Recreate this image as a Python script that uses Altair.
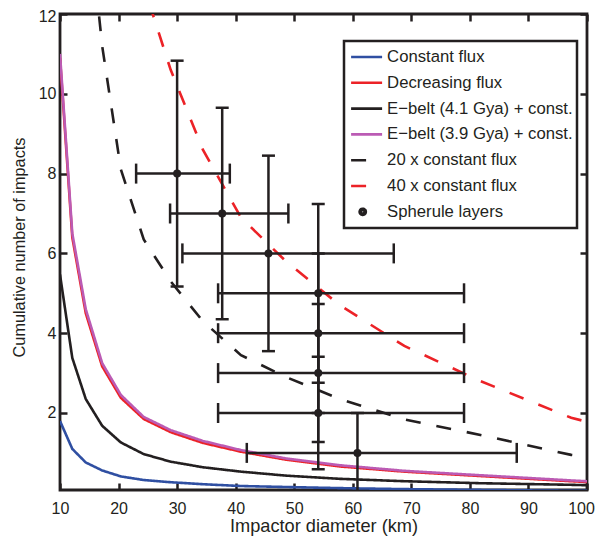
import altair as alt
import pandas as pd

# ---------------- data ----------------
diam = [10, 12.1, 14.4, 17.2, 20.4, 24.3, 28.9, 34.4, 40.9, 48.6, 57.8, 68.8, 81.8, 97.3, 100]
constant_flux = [1.80, 1.10, 0.76, 0.56, 0.41, 0.32, 0.265, 0.215, 0.17, 0.145, 0.117, 0.092, 0.072, 0.050, 0.047]
decreasing_flux = [10.90, 6.40, 4.50, 3.17, 2.38, 1.85, 1.52, 1.25, 1.03, 0.83, 0.66, 0.53, 0.42, 0.29, 0.27]
ebelt_41 = [5.47, 3.38, 2.35, 1.68, 1.26, 0.97, 0.78, 0.64, 0.53, 0.43, 0.35, 0.29, 0.24, 0.20, 0.19]
ebelt_39 = [11.00, 6.50, 4.60, 3.25, 2.45, 1.90, 1.57, 1.30, 1.07, 0.86, 0.69, 0.55, 0.44, 0.31, 0.29]
flux_20x = [36.0, 22.0, 15.2, 11.2, 8.1, 6.35, 5.3, 4.3, 3.45, 2.9, 2.35, 1.84, 1.45, 0.95, 0.90]
flux_40x = [72.0, 44.0, 30.4, 22.4, 16.2, 12.7, 10.6, 8.6, 6.9, 5.8, 4.7, 3.68, 2.8, 1.88, 1.78]

series_names = [
    "Constant flux",
    "Decreasing flux",
    "E\u2212belt (4.1 Gya) + const.",
    "E\u2212belt (3.9 Gya) + const.",
    "20 x constant flux",
    "40 x constant flux",
    "Spherule layers",
]
series_colors = ["#2f4fa2", "#ec2227", "#231f20", "#bb5bb4", "#231f20", "#ec2227", "#231f20"]
series_dash = [[1, 0], [1, 0], [1, 0], [1, 0], [15, 16], [15, 16], [1, 0]]
# legend glyph for the spherule entry: concentric rings that read as a filled dot
DOT = ("M-0.05,0A0.2,0.2,0,1,1,-0.45,0A0.2,0.2,0,1,1,-0.05,0Z"
       "M-0.13,0A0.12,0.12,0,1,1,-0.37,0A0.12,0.12,0,1,1,-0.13,0Z"
       "M-0.21,0A0.04,0.04,0,1,1,-0.29,0A0.04,0.04,0,1,1,-0.21,0Z")
legend_shapes = ["stroke", "stroke", "stroke", "stroke", "stroke", "stroke", DOT]
legend_sizes = [961, 961, 961, 961, 961, 961, 961]
legend_widths = [2.6, 2.6, 2.6, 2.6, 2.6, 2.6, 2.6]

# spherule layers (points with error bars)
sph_d = [30.0, 37.7, 45.6, 54.1, 54.1, 54.1, 54.1, 60.8]
sph_n = [8, 7, 6, 5, 4, 3, 2, 1]
sph_dlo = [23.0, 28.8, 30.9, 37.0, 37.0, 37.0, 37.0, 41.9]
sph_dhi = [39.0, 49.0, 67.0, 79.0, 79.0, 79.0, 79.0, 88.0]
sph_nlo = [5.17, 4.35, 3.55, 2.76, 2.00, 1.27, 0.59, 0.00]
sph_nhi = [10.83, 9.65, 8.45, 7.24, 6.00, 4.73, 3.41, 2.00]

x_ticks = [10, 20, 30, 40, 50, 60, 70, 80, 90, 100]
y_ticks = [2, 4, 6, 8, 10, 12]

# ---------------- tables ----------------
curves = [constant_flux, decreasing_flux, ebelt_41, ebelt_39, flux_20x, flux_40x]
rows = []
for name, vals in zip(series_names[:6], curves):
    for d, v in zip(diam, vals):
        rows.append({"d": d, "v": v, "series": name})
lines_df = pd.DataFrame(rows)

sph_df = pd.DataFrame({
    "d": sph_d, "n": sph_n, "dlo": sph_dlo, "dhi": sph_dhi,
    "nlo": sph_nlo, "nhi": sph_nhi,
})

# one hidden row per legend entry (placed above the y domain, clipped away)
key_df = pd.DataFrame({"series": series_names, "d": [50] * 7, "v": [100] * 7})

INK = "#231f20"
FONT = "Liberation Sans"

xscale = alt.Scale(domain=[10, 100], nice=False, zero=False)
yscale = alt.Scale(domain=[0.07, 12], nice=False, zero=False)
cscale = alt.Scale(domain=series_names, range=series_colors)
dscale = alt.Scale(domain=series_names, range=series_dash)

legend = alt.Legend(
    title=None, orient="none", legendX=284, legendY=27, direction="vertical",
    fillColor="white", strokeColor=INK, padding=4, rowPadding=1.8, clipHeight=24,
    labelFont=FONT, labelFontSize=16.7, labelColor=INK, labelOffset=3.5, labelLimit=400,
    symbolOffset=1.6, symbolOpacity=1,
)

key = alt.Chart(key_df).mark_point(filled=False, clip=True).encode(
    x=alt.X("d:Q", scale=xscale, axis=None),
    y=alt.Y("v:Q", scale=yscale, axis=None),
    color=alt.Color("series:N", scale=cscale, legend=legend),
    strokeDash=alt.StrokeDash("series:N", scale=dscale, legend=legend),
    shape=alt.Shape("series:N", scale=alt.Scale(domain=series_names, range=legend_shapes), legend=legend),
    size=alt.Size("series:N", scale=alt.Scale(domain=series_names, range=legend_sizes), legend=legend),
    strokeWidth=alt.StrokeWidth("series:N", scale=alt.Scale(domain=series_names, range=legend_widths), legend=legend),
)

lines = alt.Chart(lines_df).mark_line(strokeWidth=2.6, clip=True).encode(
    x=alt.X("d:Q", scale=xscale, axis=alt.Axis(
        title="Impactor diameter (km)", values=x_ticks, tickSize=7, offset=-7, domain=False,
        grid=False, labelPadding=10.5, labelFontSize=16, labelFont=FONT, labelColor=INK,
        labelOffset={"condition": {"test": "datum.value === 100", "value": -6}, "value": 0},
        tickColor=INK, tickWidth=2.5, labelFlush=False,
        titleFont=FONT, titleFontSize=18.2, titleFontWeight="normal", titleColor=INK,
        titleX=263.5, titleY=48.5, titleBaseline="alphabetic")),
    y=alt.Y("v:Q", scale=yscale, axis=alt.Axis(
        title="Cumulative number of impacts", values=y_ticks, tickSize=7, offset=-7, domain=False,
        grid=False, labelPadding=4, labelFontSize=16, labelFont=FONT, labelColor=INK,
        labelOffset={"condition": {"test": "datum.value === 12", "value": 2}, "value": 0},
        tickColor=INK, tickWidth=2.5, labelFlush=False,
        titleFont=FONT, titleFontSize=16.3, titleFontWeight="normal", titleColor=INK,
        titleX=-43, titleY=233, titleAngle=-90, titleBaseline="alphabetic", titleAlign="center")),
    color=alt.Color("series:N", scale=cscale, legend=None),
    strokeDash=alt.StrokeDash("series:N", scale=dscale, legend=None),
    order=alt.Order("d:Q"),
)

# frame ticks on top and right
frame = alt.Chart(lines_df).mark_point(opacity=0).encode(
    x=alt.X("d:Q", scale=xscale, axis=alt.Axis(
        orient="top", values=x_ticks, labels=False, title=None, tickSize=7, offset=-7,
        domain=False, grid=False, tickColor=INK, tickWidth=2.5)),
    y=alt.Y("v:Q", scale=yscale, axis=alt.Axis(
        orient="right", values=y_ticks, labels=False, title=None, tickSize=7, offset=-7,
        domain=False, grid=False, tickColor=INK, tickWidth=2.5)),
)

base = alt.Chart(sph_df)
xn = dict(scale=xscale, axis=None)
yn = dict(scale=yscale, axis=None)

vbars = base.mark_rule(color=INK, strokeWidth=2.5, clip=True).encode(
    x=alt.X("d:Q", **xn), y=alt.Y("nlo:Q", **yn), y2="nhi:Q")
hbars = base.mark_rule(color=INK, strokeWidth=2.5, clip=True).encode(
    x=alt.X("dlo:Q", **xn), x2="dhi:Q", y=alt.Y("n:Q", **yn))
vcaps = base.transform_fold(["nlo", "nhi"], as_=["which", "cap"]).mark_tick(
    color=INK, orient="horizontal", size=13, thickness=2.5, clip=True, opacity=1).encode(
    x=alt.X("d:Q", **xn), y=alt.Y("cap:Q", **yn))
hcaps = base.transform_fold(["dlo", "dhi"], as_=["which", "cap"]).mark_tick(
    color=INK, orient="vertical", size=20, thickness=2.5, clip=True, opacity=1).encode(
    x=alt.X("cap:Q", **xn), y=alt.Y("n:Q", **yn))
points = base.mark_point(filled=True, size=64, color=INK, opacity=1, clip=True).encode(
    x=alt.X("d:Q", **xn), y=alt.Y("n:Q", **yn))

chart = alt.layer(key, lines, frame, vbars, hbars, vcaps, hcaps, points).resolve_axis(
    x="independent", y="independent"
).properties(
    width=527, height=476,
    autosize=alt.AutoSizeParams(type="none"),
    padding={"left": 52, "top": 6, "right": 8, "bottom": 46},
    background="white",
).configure_view(stroke=INK, strokeWidth=2.8).configure_legend(strokeWidth=2.5)

chart.save("out.html", embed_options={"renderer": "svg", "actions": False})
